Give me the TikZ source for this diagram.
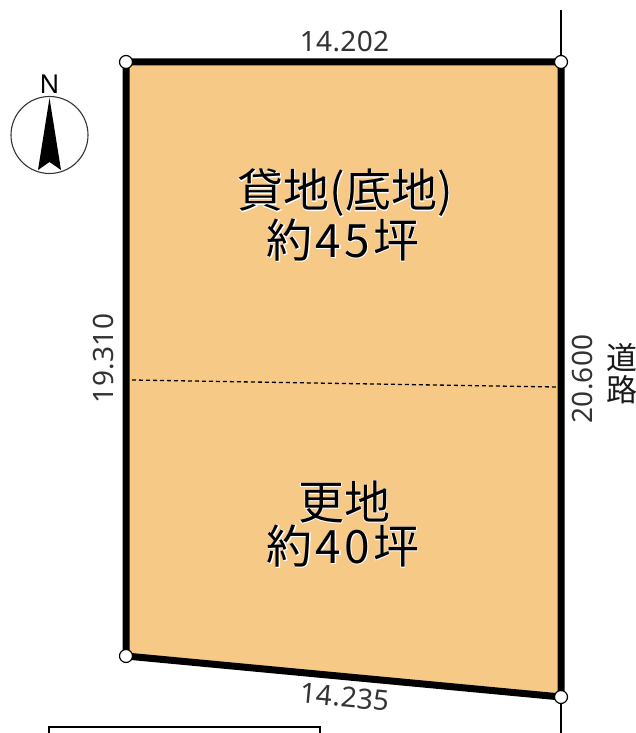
\documentclass[tikz,border=0pt]{standalone}
\usepackage{fontspec}
\setmainfont{Noto Sans}
\newfontfamily\cjk{Noto Sans CJK JP}
\newfontfamily\cjkhalo[FakeBold=2.5]{Noto Sans CJK JP}
\newfontfamily\lengthfont[LetterSpace=1.2]{Noto Sans}
\definecolor{lotfill}{HTML}{F6C987}
\tikzset{
	halotext/.style={inner sep=0pt,font=\fontsize{46}{46}\cjkhalo,text=white},
	areatext/.style={inner sep=0pt,font=\fontsize{46}{46}\cjk,text=black},
	lengthtext/.style={inner sep=0pt,font=\fontsize{28}{28}\lengthfont,text=black!80},
	roadtext/.style={inner sep=0pt,font=\fontsize{31}{31}\cjk,text=black!90},
	peg/.style={draw=black,fill=white,line width=1.2pt,circle,minimum size=13pt,inner sep=0pt}
}
\newcommand{\arealabel}[3]{
	\node[halotext] (#1h) at (#2) {#3};
	\node[areatext] (#1) at (#2) {#3};
}
\begin{document}
\begin{tikzpicture}[x=1pt,y=-1pt]
	\useasboundingbox (0,0) rectangle (636,733);
	% road line
	\coordinate (roadtop) at (561,10);
	\coordinate (roadend) at (561,733);
	\draw[line width=1.5pt] (roadtop) -- (roadend);
	% lot
	\coordinate (nw) at (126,62);
	\coordinate (ne) at (561,62);
	\coordinate (se) at (561,697);
	\coordinate (sw) at (126,656);
	\draw[fill=lotfill,line width=7pt,line join=miter] (nw) -- (ne) -- (se) -- (sw) -- cycle;
	\coordinate (splitw) at (132,380);
	\coordinate (splite) at (556,387);
	\draw[line width=1.3pt,dash pattern=on 4pt off 3pt] (splitw) -- (splite);
	\node[peg] (pegnw) at (nw) {};
	\node[peg] (pegne) at (ne) {};
	\node[peg] (pegse) at (se) {};
	\node[peg] (pegsw) at (sw) {};
	% lengths
	\node[lengthtext] (top) at (344.5,41.5) {14.202};
	\node[lengthtext,rotate=90] (left) at (104,358.5) {19.310};
	\node[lengthtext,rotate=90] (right) at (583,379) {20.600};
	\node[lengthtext,rotate=-5.4] (bottom) at (345,697) {14.235};
	\node[roadtext] (road1) at (622,358) {道};
	\node[roadtext] (road2) at (622,390) {路};
	% areas
	\arealabel{rent}{345,193}{貸地(底地)}
	\arealabel{renta}{343,240}{約\hspace{3pt}4\hspace{3pt}5\hspace{3pt}坪}
	\arealabel{sara}{344,502}{更地}
	\arealabel{saraa}{343,546}{約\hspace{3pt}4\hspace{3pt}0\hspace{3pt}坪}
	% north mark
	\draw[line width=1.1pt,draw=black!80] (49.5,135) circle (38.5);
	\fill (49.5,98) -- (61,170) -- (49.5,162) -- (38,170) -- cycle;
	\node[inner sep=0pt,font=\fontsize{26}{26}\selectfont] (north) at (49.5,84.5) {N};
	% table edge
	\draw[line width=1.3pt] (49,733) -- (49,727) -- (320,727) -- (320,733);
\end{tikzpicture}
\end{document}
